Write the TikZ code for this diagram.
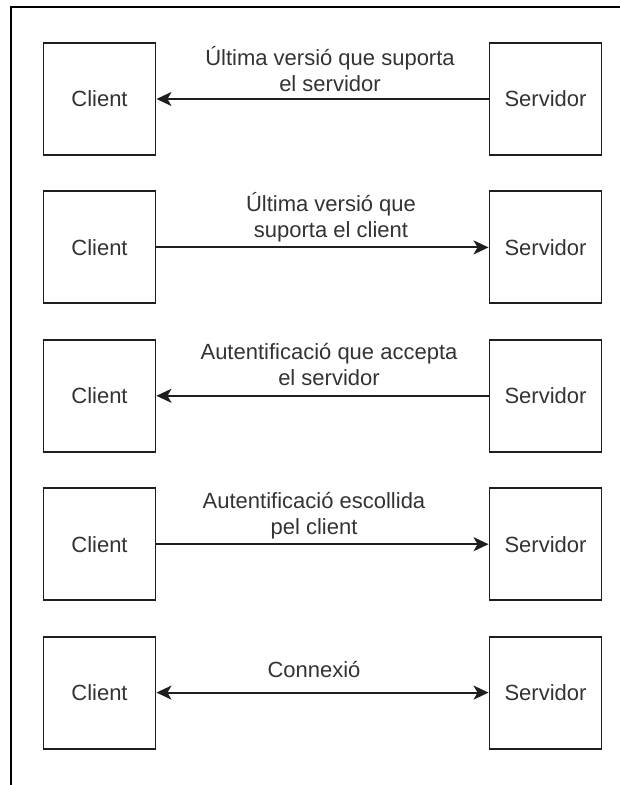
\documentclass[tikz,border=0pt]{standalone}
\usepackage{fontspec}
\setmainfont{Liberation Sans}
\usetikzlibrary{arrows.meta}
\definecolor{ink}{HTML}{1E1E1E}
\definecolor{txt}{HTML}{333333}
\begin{document}
\begin{tikzpicture}[x=1pt,y=-1pt,
  box/.style={draw=ink,line width=1.9pt,minimum width=112pt,minimum height=112pt,
    inner sep=0pt,text=txt,font=\fontsize{22}{26}\selectfont},
  msg/.style={line width=1.9pt,draw=ink},
  head/.tip={Stealth[length=15pt,width=14pt,inset=4pt]},
  lbl/.style={text=txt,align=center,inner sep=0pt,font=\fontsize{22}{26.5}\selectfont}]
  \useasboundingbox (0,0) rectangle (620,785);
  % page frame
  \draw[line width=2.2pt,black] (10.7,785) -- (10.7,7) -- (620,7);
  % client / server boxes, one row per message
  \foreach \i/\yy in {1/99,2/247.4,3/395.8,4/544.2,5/692.6}{
    \node[box] (c\i) at (99.5,\yy) {Client};
    \node[box] (s\i) at (545.5,\yy) {Servidor};
  }
  % messages
  \draw[msg,-head] (s1) -- (c1);
  \node[lbl] (l1) at (330,69.3) {Última versió que suporta\\el servidor};
  \draw[msg,-head] (c2) -- (s2);
  \node[lbl] (l2) at (331,217) {Última versió que\\suporta el client};
  \draw[msg,-head] (s3) -- (c3);
  \node[lbl] (l3) at (329,364.5) {Autentificació que accepta\\el servidor};
  \draw[msg,-head] (c4) -- (s4);
  \node[lbl] (l4) at (314,515.9) {Autentificació escollida\\pel client};
  \draw[msg,head-head] (c5) -- (s5);
  \node[lbl] (l5) at (314,669) {Connexió};
\end{tikzpicture}
\end{document}
